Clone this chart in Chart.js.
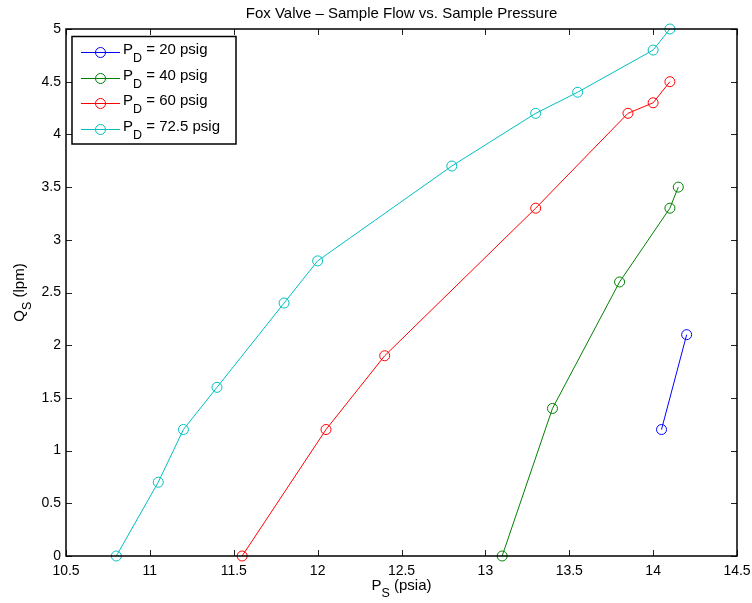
<!DOCTYPE html>
<html>
<head>
<meta charset="utf-8">
<script src="https://cdn.jsdelivr.net/npm/chart.js@4.4.0/dist/chart.umd.min.js"></script>
<style>
  html, body { margin: 0; padding: 0; background: #fff; }
  #wrap { width: 752px; height: 603px; position: relative; }
</style>
</head>
<body>
<div id="wrap"><canvas id="grafico_valvula"></canvas></div>
<script>
// eixos
var xTicks = [10.5, 11, 11.5, 12, 12.5, 13, 13.5, 14, 14.5];
var yTicks = [0, 0.5, 1, 1.5, 2, 2.5, 3, 3.5, 4, 4.5, 5];

// P_S (psia) x Q_S (lpm) para cada pressao de descarga
var ps20 = [14.05, 14.2];
var qs20 = [1.2, 2.1];
var ps40 = [13.1, 13.4, 13.8, 14.1, 14.15];
var qs40 = [0, 1.4, 2.6, 3.3, 3.5];
var ps60 = [11.55, 12.05, 12.4, 13.3, 13.85, 14.0, 14.1];
var qs60 = [0, 1.2, 1.9, 3.3, 4.2, 4.3, 4.5];
var ps725 = [10.8, 11.05, 11.2, 11.4, 11.8, 12.0, 12.8, 13.3, 13.55, 14.0, 14.1];
var qs725 = [0, 0.7, 1.2, 1.6, 2.4, 2.8, 3.7, 4.2, 4.4, 4.8, 5.0];

var pressoes = ['20', '40', '60', '72.5'];
var cores = ['#0000ff', '#008000', '#ff0000', '#00bfbf'];

var FONTE = '"Liberation Sans", Arial, Helvetica, sans-serif';

function pontos(xs, ys) {
  return xs.map(function(x, i) { return { x: x, y: ys[i] }; });
}

function serie(i, xs, ys) {
  return {
    label: 'P_D = ' + pressoes[i] + ' psig',
    data: pontos(xs, ys),
    showLine: true,
    borderColor: cores[i],
    backgroundColor: 'rgba(0,0,0,0)',
    borderWidth: 1,
    pointRadius: 5,
    pointHoverRadius: 5,
    pointBorderWidth: 1,
    pointBorderColor: cores[i],
    pointBackgroundColor: 'rgba(0,0,0,0)',
    clip: false
  };
}

// texto com subscrito: partes = [[texto, sub?], ...]
function largura(ctx, partes, tam, tamSub) {
  var larg = 0;
  partes.forEach(function(p) {
    ctx.font = (p[1] ? tamSub : tam) + 'px ' + FONTE;
    larg += ctx.measureText(p[0]).width;
  });
  return larg;
}

function desenhaSub(ctx, partes, x, y, tam, tamSub, desloc, alinha) {
  var larg = largura(ctx, partes, tam, tamSub);
  var cx = alinha === 'center' ? x - larg / 2 : x;
  ctx.textAlign = 'left';
  ctx.textBaseline = 'alphabetic';
  partes.forEach(function(p) {
    ctx.font = (p[1] ? tamSub : tam) + 'px ' + FONTE;
    ctx.fillText(p[0], cx, p[1] ? y + desloc : y);
    cx += ctx.measureText(p[0]).width;
  });
}

var moldura = {
  id: 'moldura',
  afterDraw: function(chart) {
    var ctx = chart.ctx, a = chart.chartArea;
    var sx = chart.scales.x, sy = chart.scales.y;
    var tl = 6;
    ctx.save();
    ctx.strokeStyle = '#222';
    ctx.lineWidth = 1;
    ctx.beginPath();
    xTicks.forEach(function(v) {
      var px = Math.round(sx.getPixelForValue(v)) + 0.5;
      ctx.moveTo(px, a.bottom); ctx.lineTo(px, a.bottom - tl);
      ctx.moveTo(px, a.top); ctx.lineTo(px, a.top + tl);
    });
    yTicks.forEach(function(v) {
      var py = Math.round(sy.getPixelForValue(v)) + 0.5;
      ctx.moveTo(a.left, py); ctx.lineTo(a.left + tl, py);
      ctx.moveTo(a.right, py); ctx.lineTo(a.right - tl, py);
    });
    ctx.stroke();
    ctx.strokeStyle = '#000';
    ctx.lineWidth = 1.5;
    ctx.strokeRect(a.left, a.top, a.right - a.left, a.bottom - a.top);

    // titulo e rotulos
    ctx.fillStyle = '#000';
    var meio = (a.left + a.right) / 2;
    desenhaSub(ctx, [['Fox Valve \u2013 Sample Flow vs. Sample Pressure', false]], meio, 18, 15, 12, 0, 'center');
    desenhaSub(ctx, [['P', false], ['S', true], [' (psia)', false]], meio, 590, 15, 12.5, 7, 'center');
    ctx.save();
    ctx.translate(24, (a.top + a.bottom) / 2);
    ctx.rotate(-Math.PI / 2);
    desenhaSub(ctx, [['Q', false], ['S', true], [' (lpm)', false]], 0, 0, 15, 12.5, 7, 'center');
    ctx.restore();

    // legenda
    var lx = 72, ly = 36.5, lw = 164, lh = 107.5;
    ctx.fillStyle = '#fff';
    ctx.fillRect(lx, ly, lw, lh);
    ctx.lineWidth = 1.5;
    ctx.strokeStyle = '#000';
    ctx.strokeRect(lx, ly, lw, lh);
    pressoes.forEach(function(p, i) {
      var yy = Math.round(52 + i * 25.7) + 0.5;
      ctx.strokeStyle = cores[i];
      ctx.lineWidth = 1;
      ctx.beginPath();
      ctx.moveTo(81, yy); ctx.lineTo(120, yy);
      ctx.stroke();
      ctx.beginPath();
      ctx.arc(100.5, yy, 5, 0, Math.PI * 2);
      ctx.stroke();
      ctx.fillStyle = '#000';
      desenhaSub(ctx, [['P', false], ['D', true], [' = ' + p + ' psig', false]], 123, yy + 1, 15, 12.5, 8, 'left');
    });
    ctx.restore();
  }
};

new Chart(document.getElementById('grafico_valvula'), {
  type: 'scatter',
  data: {
    datasets: [
      serie(0, ps20, qs20),
      serie(1, ps40, qs40),
      serie(2, ps60, qs60),
      serie(3, ps725, qs725)
    ]
  },
  options: {
    responsive: true,
    maintainAspectRatio: false,
    animation: false,
    events: [],
    layout: { padding: { top: 29, right: 15, left: 0, bottom: 0 } },
    plugins: {
      legend: { display: false },
      title: { display: false },
      tooltip: { enabled: false }
    },
    scales: {
      x: {
        type: 'linear',
        min: 10.5,
        max: 14.5,
        grid: { display: false, drawTicks: false },
        border: { display: false },
        afterBuildTicks: function(scale) {
          scale.ticks = xTicks.map(function(v) { return { value: v }; });
        },
        afterFit: function(scale) {
          scale.height = 47;
          scale.paddingLeft = 0;
          scale.paddingRight = 0;
        },
        ticks: {
          autoSkip: false,
          maxRotation: 0,
          padding: 7,
          color: '#000',
          font: { family: FONTE, size: 14 },
          callback: function(v) { return String(v); }
        }
      },
      y: {
        type: 'linear',
        min: 0,
        max: 5,
        grid: { display: false, drawTicks: false },
        border: { display: false },
        afterBuildTicks: function(scale) {
          scale.ticks = yTicks.map(function(v) { return { value: v }; });
        },
        afterFit: function(scale) {
          scale.width = 66;
          scale.paddingTop = 0;
          scale.paddingBottom = 0;
        },
        ticks: {
          autoSkip: false,
          padding: 5,
          color: '#000',
          font: { family: FONTE, size: 14 },
          callback: function(v) { return String(v); }
        }
      }
    }
  },
  plugins: [moldura]
});
</script>
</body>
</html>
